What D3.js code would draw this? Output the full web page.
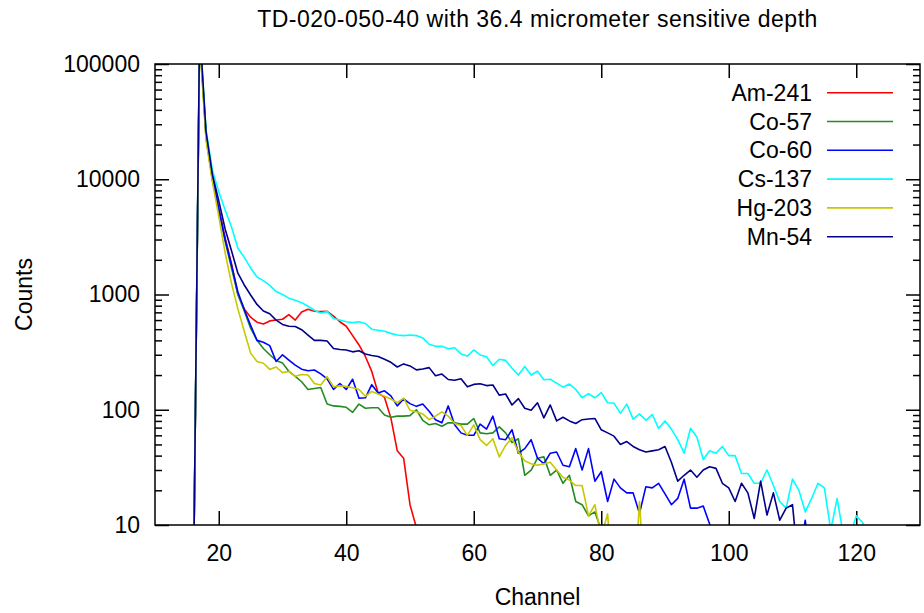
<!DOCTYPE html>
<html>
<head>
<meta charset="utf-8">
<script src="https://cdn.jsdelivr.net/npm/d3@7"></script>
<style>
  body { margin: 0; background: #fff; }
  text { font-family: "Liberation Sans", Arial, sans-serif; font-size: 23px; fill: #000; }
</style>
</head>
<body>
<script>
// every series starts at this channel, one value per channel
var firstChannel = 16;

var am241 = [2, 190000, 24000, 10000, 5600, 3100, 1850, 1000, 750, 635,
  575, 555, 590, 600, 610, 670, 600, 705, 745, 715,
  710, 715, 650, 580, 530, 440, 365, 290, 215, 140,
  128, 85, 44, 38, 15, 9.5, 3];

var co57 = [2, 170000, 23000, 10000, 5300, 2900, 1700, 1000, 720, 510,
  400, 340, 300, 268, 255, 215, 195, 175, 150, 153,
  156, 112, 108, 107, 105, 95, 112, 103, 104, 104,
  90, 86, 88, 88, 89, 100, 81, 74, 76, 72,
  77, 77, 75, 75, 84, 63, 62, 63, 71, 63,
  52, 56, 27, 30, 38, 39, 27, 30, 23, 27,
  16, 15, 12, 13, 9, 4];

var co60 = [2, 180000, 25000, 10500, 5500, 3000, 1800, 1050, 740, 540,
  400, 385, 360, 262, 300, 270, 244, 225, 218, 221,
  205, 185, 150, 169, 150, 184, 126, 127, 165, 140,
  146, 132, 108, 124, 113, 107, 112, 97, 82, 77,
  108, 74, 63, 60, 60, 75, 68, 88, 56, 55,
  67, 42, 46, 55, 38, 34, 42, 43, 33, 32,
  46, 30, 46, 24, 29, 16, 25, 21, 19, 19,
  12.6, 21.5, 21, 23, 18.6, 15, 17, 25, 14, 14,
  14.6, 10.2, 3, 3, 2, 3, 2, 3, 2, 2,
  3, 2, 2, 3, 2, 5, 11, 4];

var cs137 = [2, 200000, 27000, 12000, 7800, 5400, 3850, 2520, 2100, 1700,
  1420, 1320, 1200, 1060, 1000, 930, 890, 850, 790, 730,
  690, 710, 620, 600, 580, 570, 580, 560, 500, 490,
  480, 460, 445, 440, 445, 440, 420, 370, 355, 355,
  338, 345, 305, 292, 330, 299, 288, 242, 274, 268,
  229, 200, 237, 200, 216, 182, 184, 170, 157, 167,
  150, 127, 138, 127, 141, 115, 114, 93, 112, 83,
  92, 81, 91, 69, 80, 68, 55, 42, 69, 58,
  37, 44, 42, 48, 40, 40, 28, 28, 23, 23,
  30, 22, 16, 14, 25, 20, 13, 17, 23, 21,
  9, 17, 8, 8, 12, 10.5, 8];

var hg203 = [2, 160000, 22000, 9500, 4800, 2300, 1250, 750, 480, 310,
  262, 253, 224, 235, 210, 215, 195, 202, 200, 169,
  164, 194, 158, 161, 159, 155, 150, 131, 144, 137,
  131, 124, 115, 126, 99, 96, 92, 82, 88, 96,
  88, 76, 73, 60, 74, 55, 49, 56, 39, 49,
  57, 43, 36, 34, 33, 34, 35, 30, 26, 24.5,
  22, 22, 12, 15, 8, 12.5, 2, 1, 1, 2,
  16, 2];

var mn54 = [2, 210000, 26000, 11000, 6500, 3700, 2400, 1530, 1210, 990,
  820, 720, 680, 600, 550, 530, 527, 495, 445, 400,
  400, 395, 340, 333, 330, 318, 325, 305, 296, 290,
  274, 258, 235, 250, 240, 222, 226, 232, 197, 204,
  183, 180, 186, 158, 166, 168, 162, 164, 134, 137,
  110, 125, 103, 99, 115, 85, 110, 80, 86, 80,
  76, 82, 83, 84, 67, 63, 59, 50, 53, 48,
  45, 43, 44, 45, 48, 35, 24, 27, 30, 26,
  30, 32, 31, 23, 21, 16, 23, 19, 11.4, 24,
  12.2, 19, 11, 14, 15, 4];

var isotopes = ["Am-241", "Co-57", "Co-60", "Cs-137", "Hg-203", "Mn-54"];
var seriesValues = [am241, co57, co60, cs137, hg203, mn54];
var colors = ["#ff0000", "#228b22", "#0000ff", "#00ffff", "#c8c800", "#00008b"];

var xTicks = [20, 40, 60, 80, 100, 120];
var yTicks = [10, 100, 1000, 10000, 100000];
var yMinorTicks = [];
[10, 100, 1000, 10000].forEach(function(dec) {
  for (var k = 2; k <= 9; k++) yMinorTicks.push(dec * k);
});

// set the dimensions and margins of the graph
var margin = {top: 64, right: 4, bottom: 88, left: 155},
    width = 924 - margin.left - margin.right,
    height = 613 - margin.top - margin.bottom;

var x = d3.scaleLinear().domain([10, 130]).range([0, width]);
var y = d3.scaleLog().domain([10, 100000]).range([height, 0]);

var svg = d3.select("body").append("svg")
    .attr("width", 924)
    .attr("height", 613);

var plot = svg.append("g")
    .attr("transform", "translate(" + margin.left + "," + margin.top + ")");

plot.append("clipPath")
    .attr("id", "clip")
  .append("rect")
    .attr("width", width)
    .attr("height", height);

function styleAxis(g) {
  g.select(".domain").remove();
  g.selectAll(".tick line").attr("stroke-width", 1.5);
}

// major and minor ticks, all pointing inwards
plot.append("g")
    .attr("transform", "translate(0," + height + ")")
    .call(d3.axisBottom(x).tickValues(xTicks).tickSize(-14).tickPadding(20))
    .call(styleAxis);

plot.append("g")
    .call(d3.axisTop(x).tickValues(xTicks).tickSize(-14).tickFormat(""))
    .call(styleAxis);

plot.append("g")
    .call(d3.axisLeft(y).tickValues(yTicks).tickFormat(d3.format("d")).tickSize(-14).tickPadding(15))
    .call(styleAxis);

plot.append("g")
    .call(d3.axisLeft(y).tickValues(yMinorTicks).tickFormat("").tickSize(-7))
    .call(styleAxis);

plot.append("g")
    .attr("transform", "translate(" + width + ",0)")
    .call(d3.axisRight(y).tickValues(yTicks).tickFormat("").tickSize(-14))
    .call(styleAxis);

plot.append("g")
    .attr("transform", "translate(" + width + ",0)")
    .call(d3.axisRight(y).tickValues(yMinorTicks).tickFormat("").tickSize(-7))
    .call(styleAxis);

// the lines
var valueline = d3.line()
    .x(function(d, i) { return x(firstChannel + i); })
    .y(function(d) { return y(d); });

plot.append("g")
    .attr("clip-path", "url(#clip)")
  .selectAll("path")
    .data(seriesValues)
  .enter().append("path")
    .attr("fill", "none")
    .attr("stroke", function(d, i) { return colors[i]; })
    .attr("stroke-width", 1.6)
    .attr("stroke-linejoin", "round")
    .attr("d", valueline);

// frame
plot.append("rect")
    .attr("width", width)
    .attr("height", height)
    .attr("fill", "none")
    .attr("stroke", "#000")
    .attr("stroke-width", 1.5);

// legend
var legend = svg.append("g")
    .attr("transform", "translate(812,92.7)");

var rows = legend.selectAll("g")
    .data(isotopes)
  .enter().append("g")
    .attr("transform", function(d, i) { return "translate(0," + (i * 28.8) + ")"; });

rows.append("text")
    .attr("text-anchor", "end")
    .attr("y", 8)
    .text(function(d) { return d; });

rows.append("line")
    .attr("x1", 15)
    .attr("x2", 81)
    .attr("stroke", function(d, i) { return colors[i]; })
    .attr("stroke-width", 1.6);

// titles
svg.append("text")
    .attr("x", margin.left + width / 2)
    .attr("y", 27)
    .attr("text-anchor", "middle")
    .attr("letter-spacing", 0.5)
    .text("TD-020-050-40 with 36.4 micrometer sensitive depth");

svg.append("text")
    .attr("transform", "translate(32," + (margin.top + height / 2) + ") rotate(-90)")
    .attr("text-anchor", "middle")
    .text("Counts");

svg.append("text")
    .attr("x", margin.left + width / 2)
    .attr("y", 605)
    .attr("text-anchor", "middle")
    .text("Channel");
</script>
</body>
</html>
